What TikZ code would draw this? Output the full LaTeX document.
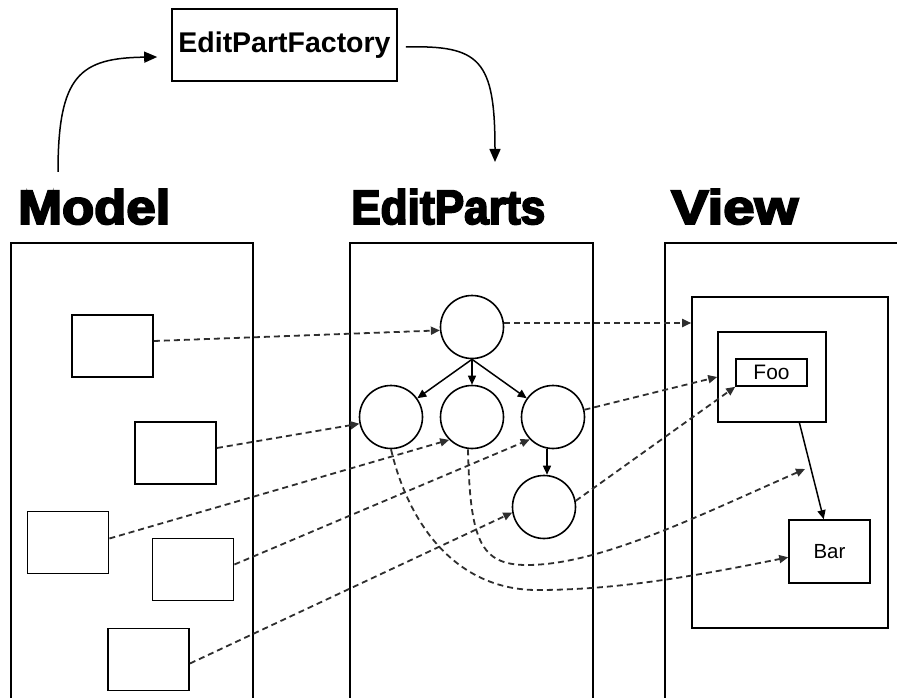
\documentclass[tikz,border=0pt]{standalone}
\usepackage{fontspec}
\setmainfont{Liberation Sans}
\newfontfamily\heavyfont{Liberation Sans}[BoldFeatures={FakeBold=4}]
\usetikzlibrary{arrows.meta,calc}

\begin{document}
\begin{tikzpicture}[x=1bp,y=-1bp,
  panel/.style={draw, line width=1.5bp, rectangle, inner sep=0, anchor=north west},
  mbox/.style={draw, line width=1.8bp, rectangle, inner sep=0,
    minimum width=81bp, minimum height=62bp},
  part/.style={draw, circle, line width=1.6bp, inner sep=0, minimum size=63bp},
  fig/.style={draw, line width=1.6bp, rectangle, inner sep=0},
  title/.style={anchor=base west, inner sep=0, font=\heavyfont\bfseries},
  tip/.style={-{Triangle[length=9bp,width=8bp]}},
  bigtip/.style={-{Triangle[length=13bp,width=11bp]}},
  child/.style={tip, line width=1.5bp},
  link/.style={tip, line width=1.8bp, draw=black!82, dash pattern=on 6bp off 4bp},
  flow/.style={bigtip, line width=1.5bp}]

\useasboundingbox (0,0) rectangle (897,698);
\clip (0,0) rectangle (897,698);
\fill[white] (0,0) rectangle (897,698);

% column headings
\node[title] (tmodel) at (18,224) {\resizebox{152bp}{35bp}{Model}};
\node[title] (tparts) at (351,224) {\resizebox{194bp}{35bp}{EditParts}};
\node[title] (tview) at (671,224) {\resizebox{127bp}{35bp}{View}};

% factory
\node[fig, minimum width=225bp, minimum height=72bp,
      font=\fontsize{28.6pt}{30pt}\selectfont\bfseries] (factory) at (284.5,45) {EditPartFactory};

% the three columns (open at the bottom)
\node[panel, minimum width=242bp, minimum height=480bp] (pmodel) at (10,242) {};
\node[panel, minimum width=243bp, minimum height=480bp] (pparts) at (349,242) {};
\node[panel, minimum width=260bp, minimum height=480bp] (pview) at (664,242) {};

% model objects
\node[mbox] (m1) at (112.5,346) {};
\node[mbox] (m2) at (175.5,453) {};
\node[mbox] (m3) at (68,542.5) {};
\node[mbox] (m4) at (193,569.5) {};
\node[mbox] (m5) at (148.5,659.5) {};

% edit parts
\node[part] (e0) at (472,327) {};
\node[part] (e1) at (391,417) {};
\node[part] (e2) at (472,417) {};
\node[part] (e3) at (553,417) {};
\node[part] (e4) at (544,507) {};

% view figures
\node[fig, minimum width=196bp, minimum height=331bp] (vin) at (790,462.5) {};
\node[fig, minimum width=108bp, minimum height=90bp] (fo) at (772,377) {};
\node[fig, minimum width=71bp, minimum height=27bp,
      font=\fontsize{21pt}{22pt}\selectfont] (foo) at (771.5,372.5) {Foo};
\node[fig, minimum width=81bp, minimum height=63bp,
      font=\fontsize{20.5pt}{22pt}\selectfont] (bar) at (829.5,551.5) {Bar};

% factory flow
\coordinate (fstart) at ($(tmodel.north west)+(40,-17)$);
\coordinate (fend) at (495,162);
\draw[flow] (fstart) .. controls (58,75) and (80,58) .. ($(factory.west)+(-14,12)$);
\draw[flow] ($(factory.east)+(8,2)$) .. controls (480,45) and (495,60) .. (fend);

% edit part hierarchy
\draw[child] (e0.south) -- (e1);
\draw[child] (e0.south) -- (e2);
\draw[child] (e0.south) -- (e3);
\draw[child] ($(e3.south)+(-6,0)$) -- ($(e4.north)+(3,0)$);

% figure hierarchy
\draw[child] ($(fo.south west)!0.75!(fo.south east)$) -- ($(bar.north west)!0.43!(bar.north east)$);
\coordinate (conn) at (805,469);

% model -> edit part
\draw[link] ($(m1.east)+(0,-5)$) -- (e0.186);
\draw[link] ($(m2.east)+(0,-5)$) -- (e1.192);
\draw[link] ($(m3.east)+(0,-4)$) -- (e2.225);
\draw[link] ($(m4.east)+(0,-5)$) -- (e3.224);
\draw[link] ($(m5.east)+(0,4)$) -- (e4.190);

% edit part -> figure
\draw[link] (e0.east |- 0,323) -- (vin.west |- 0,323);
\draw[link] (e3.13) -- (fo.west);
\draw[link] (e4.11) -- (foo.south west);
\draw[link] ($(e2.south)+(-4,0)$) .. controls (470,540) and (480,565) .. (527,565)
            .. controls (600,565) and (700,515) .. (conn);
\draw[link] (e1.south) .. controls (410,530) and (460,590) .. (537,590)
            .. controls (620,590) and (700,575) .. (bar.188);
\end{tikzpicture}
\end{document}
